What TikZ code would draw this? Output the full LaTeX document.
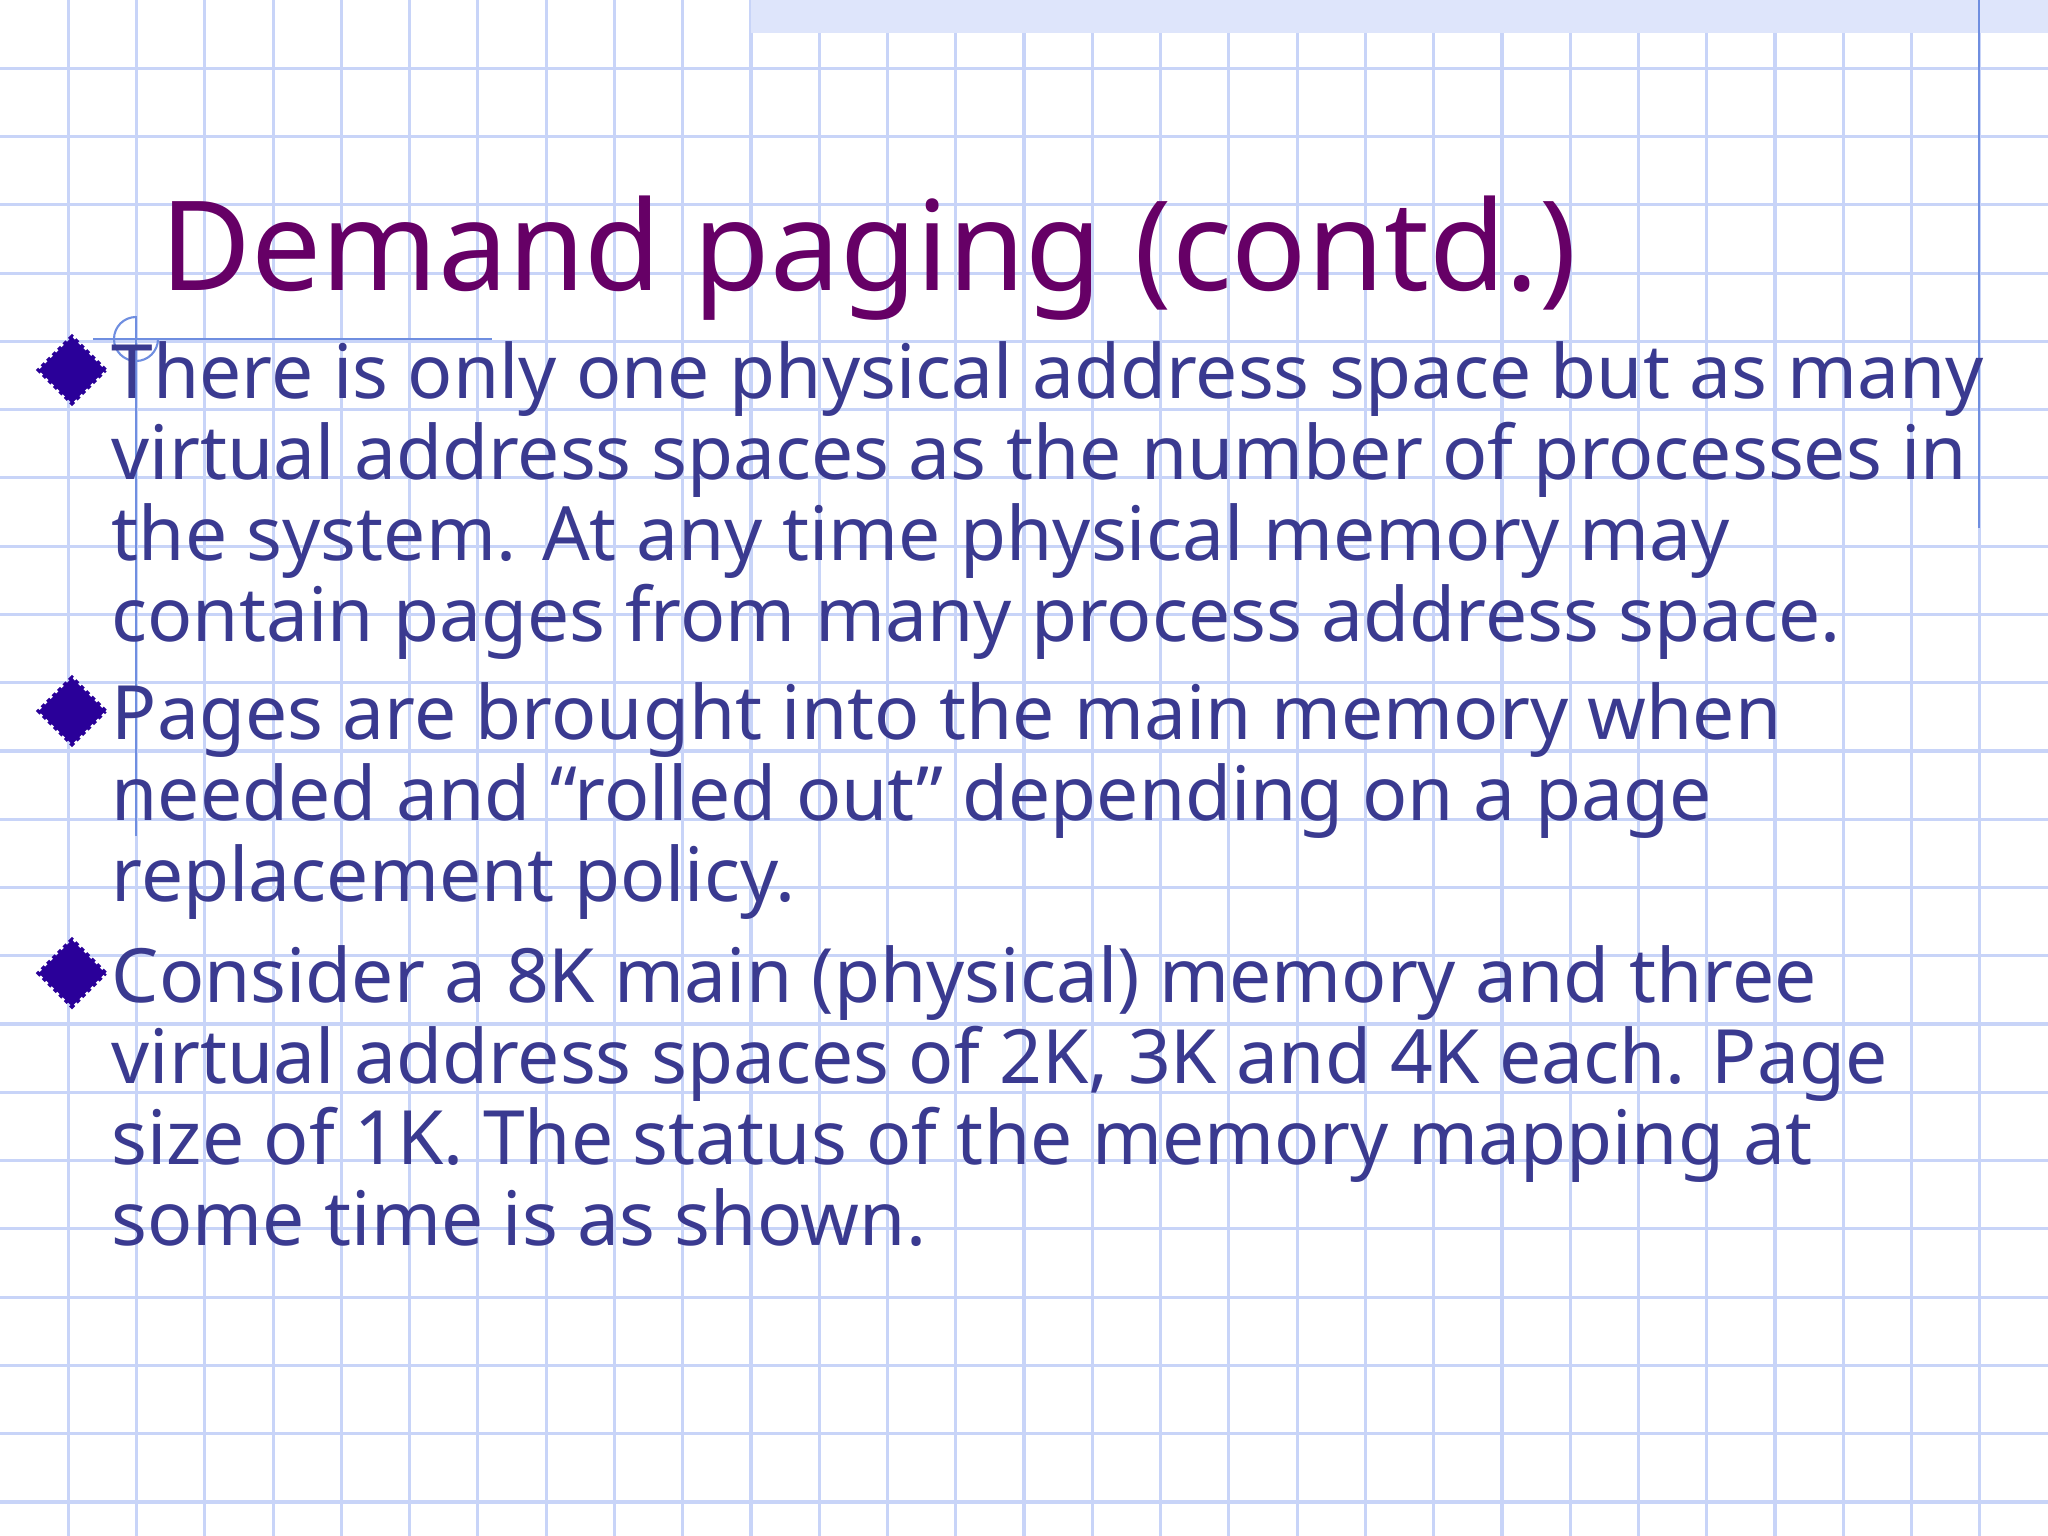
\documentclass[tikz,border=0pt]{standalone}
\usepackage{fontspec}
\setmainfont{Noto Sans}
\usetikzlibrary{shapes.geometric,patterns}
\definecolor{grid}{HTML}{C8D4F8}
\definecolor{gline}{HTML}{6F8EE0}
\definecolor{ttl}{HTML}{660066}
\definecolor{body}{HTML}{3A3A90}
\definecolor{bul}{HTML}{2A0099}
\tikzset{
  ln/.style={anchor=base west,inner sep=0pt,text=body,font=\fontsize{21.3}{23}\selectfont},
  bulletd/.style={diamond,fill=bul,draw=bul,densely dotted,line width=1.2pt,minimum width=1.6cm,minimum height=1.6cm,inner sep=0pt,scale=0.42}
}
\begin{document}
\begin{tikzpicture}[x=0.01cm,y=-0.01cm]
\useasboundingbox (0,0) rectangle (2048,1536);
\fill[white] (0,0) rectangle (2048,1536);
\foreach \i in {1,...,29} \draw[grid,line width=0.9pt] (\i*68.27,0) -- (\i*68.27,1536);
\foreach \j in {1,...,22} \draw[grid,line width=0.9pt] (0,\j*68.27) -- (2048,\j*68.27);
\fill[grid!60] (751,0) rectangle (2048,33);
\draw[gline,line width=0.8pt] (1979,0) -- (1979,528);
\draw[gline,line width=0.8pt] (93,339) -- (492,339);
\draw[gline,line width=0.8pt] (136,316) -- (136,836);
\draw[gline,line width=0.6pt] (136,317) arc (-90:-360:22);
\node[anchor=base west,inner sep=0pt,text=ttl,font=\fontsize{35.4}{40}\selectfont] (title) at (160,290) {Demand paging (contd.)};
\node[bulletd] (b1) at (72,370) {};
\node[bulletd] (b2) at (72,711) {};
\node[bulletd] (b3) at (72,973) {};
\node[ln] (l1) at (111,398) {There is only one physical address space but as many};
\node[ln] (l2) at (111,479) {virtual address spaces as the number of processes in};
\node[ln] (l3) at (111,560) {the system. At any time physical memory may};
\node[ln] (l4) at (111,641) {contain pages from many process address space.};
\node[ln] (m1) at (111,739) {Pages are brought into the main memory when};
\node[ln] (m2) at (111,820) {needed and “rolled out” depending on a page};
\node[ln] (m3) at (111,901) {replacement policy.};
\node[ln] (n1) at (111,1002) {Consider a 8K main (physical) memory and three};
\node[ln] (n2) at (111,1083) {virtual address spaces of 2K, 3K and 4K each. Page};
\node[ln] (n3) at (111,1164) {size of 1K. The status of the memory mapping at};
\node[ln] (n4) at (111,1245) {some time is as shown.};
\end{tikzpicture}
\end{document}
